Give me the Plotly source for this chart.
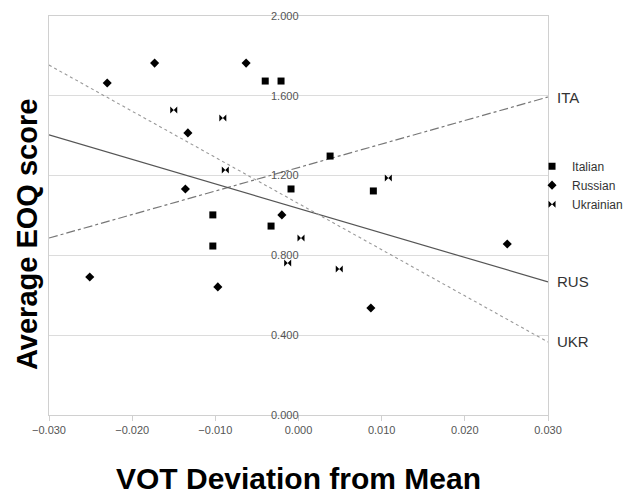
import plotly.graph_objects as go

# --- data ---
ita_x = [-0.0040, -0.0021, 0.0038, 0.0090, -0.0009, -0.0103, -0.0033, -0.0103]
ita_y = [1.674, 1.674, 1.298, 1.123, 1.133, 1.003, 0.947, 0.847]

rus_x = [-0.0230, -0.0173, -0.0063, -0.0133, -0.0136, -0.0020, -0.0251, -0.0097, 0.0087, 0.0251]
rus_y = [1.664, 1.764, 1.764, 1.414, 1.133, 1.003, 0.692, 0.642, 0.536, 0.857]

ukr_x = [-0.0150, -0.0091, -0.0088, 0.0108, 0.0003, -0.0013, 0.0049]
ukr_y = [1.529, 1.489, 1.228, 1.188, 0.887, 0.762, 0.732]

fit_x = [-0.030, 0.030]
ita_fit = [0.887, 1.594]
rus_fit = [1.404, 0.667]
ukr_fit = [1.754, 0.366]

line_labels = ["ITA", "RUS", "UKR"]
x_ticks = [-0.03, -0.02, -0.01, 0.0, 0.01, 0.02, 0.03]
y_ticks = [0.0, 0.4, 0.8, 1.2, 1.6, 2.0]

FONT = "Liberation Sans, Arial, sans-serif"

fig = go.Figure()

# fit lines
fig.add_trace(go.Scatter(x=fit_x, y=ita_fit, mode="lines", showlegend=False,
                         line=dict(color="#777777", width=1.2, dash="dashdot"), hoverinfo="skip"))
fig.add_trace(go.Scatter(x=fit_x, y=rus_fit, mode="lines", showlegend=False,
                         line=dict(color="#555555", width=1.2), hoverinfo="skip"))
fig.add_trace(go.Scatter(x=fit_x, y=ukr_fit, mode="lines", showlegend=False,
                         line=dict(color="#999999", width=1.1, dash="dot"), hoverinfo="skip"))

# points
fig.add_trace(go.Scatter(x=ita_x, y=ita_y, mode="markers", name="Italian",
                         marker=dict(symbol="square", size=7, color="black")))
fig.add_trace(go.Scatter(x=rus_x, y=rus_y, mode="markers", name="Russian",
                         marker=dict(symbol="diamond", size=7, color="black")))
fig.add_trace(go.Scatter(x=ukr_x, y=ukr_y, mode="markers", name="Ukrainian",
                         marker=dict(symbol="bowtie", size=7, color="black")))

# invisible trace to drive second y axis (tick labels at x = 0)
fig.add_trace(go.Scatter(x=[0, 0], y=[0, 2], yaxis="y2", mode="markers",
                         marker=dict(opacity=0), showlegend=False, hoverinfo="skip"))

# line-end labels
for lab, yy in zip(line_labels, [ita_fit[-1], rus_fit[-1], ukr_fit[-1]]):
    fig.add_annotation(x=fit_x[-1], y=yy, text=lab, showarrow=False, xanchor="left",
                       xshift=7, font=dict(family=FONT, size=15, color="#333333"))

# y axis title (placed like the reference, slightly below centre)
fig.add_annotation(xref="paper", yref="paper", x=-0.0441, y=0.4536, text="<b>Average EOQ score</b>",
                   textangle=-90, showarrow=False, xanchor="center", yanchor="middle",
                   font=dict(family=FONT, size=29, color="black"))

fig.update_layout(
    width=623, height=487,
    margin=dict(l=41, r=83, t=8, b=80, autoexpand=False),
    paper_bgcolor="white", plot_bgcolor="white",
    font=dict(family=FONT, color="#444444"),
    xaxis=dict(range=[-0.03, 0.03], tickvals=x_ticks, tickformat=".3f",
               showgrid=False, zeroline=False, showline=True, mirror=True,
               linecolor="#d0d0d0", linewidth=1, ticks="outside", ticklen=5,
               tickcolor="#d0d0d0", tickfont=dict(size=11, color="#555555"),
               title=dict(text="<b>VOT Deviation from Mean</b>", standoff=34,
                          font=dict(family=FONT, size=30, color="black"))),
    yaxis=dict(range=[0, 2], tickvals=y_ticks, showticklabels=False,
               showgrid=True, gridcolor="#dcdcdc", zeroline=False, showline=True,
               mirror=True, linecolor="#d0d0d0"),
    yaxis2=dict(range=[0, 2], overlaying="y", anchor="free", position=0.5,
                side="left", tickvals=y_ticks, tickformat=".3f", showgrid=False,
                zeroline=False, showline=False, ticks="",
                tickfont=dict(size=11, color="#555555")),
    legend=dict(x=0.968, y=0.66, xanchor="left", yanchor="top", itemwidth=30,
                font=dict(family=FONT, size=12, color="#333333"),
                bgcolor="rgba(0,0,0,0)", tracegroupgap=0),
)

fig.write_html("out.html")
